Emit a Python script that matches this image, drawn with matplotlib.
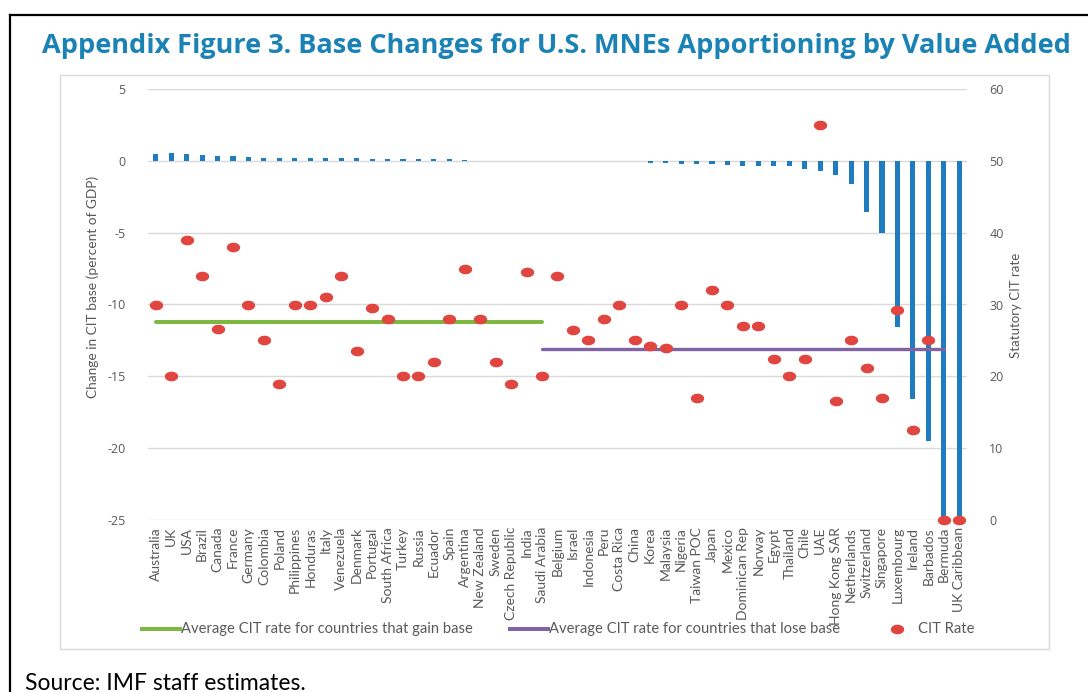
import numpy as np
import matplotlib
matplotlib.use("Agg")
import matplotlib.pyplot as plt
from matplotlib.lines import Line2D
from matplotlib.path import Path

countries = ["Australia", "UK", "USA", "Brazil", "Canada", "France", "Germany",
             "Colombia", "Poland", "Philippines", "Honduras", "Italy", "Venezuela",
             "Denmark", "Portugal", "South Africa", "Turkey", "Russia", "Ecuador",
             "Spain", "Argentina", "New Zealand", "Sweden", "Czech Republic", "India",
             "Saudi Arabia", "Belgium", "Israel", "Indonesia", "Peru", "Costa Rica",
             "China", "Korea", "Malaysia", "Nigeria", "Taiwan POC", "Japan", "Mexico",
             "Dominican Rep", "Norway", "Egypt", "Thailand", "Chile", "UAE",
             "Hong Kong SAR", "Netherlands", "Switzerland", "Singapore", "Luxembourg",
             "Ireland", "Barbados", "Bermuda", "UK Caribbean"]

# change in CIT base, percent of GDP (left axis)
base_change = [0.5, 0.52, 0.45, 0.38, 0.33, 0.33, 0.28, 0.23, 0.19, 0.19, 0.19,
               0.19, 0.19, 0.19, 0.15, 0.15, 0.15, 0.1, 0.1, 0.1, 0.05, 0.0,
               0.0, 0.0, 0.0, 0.0, 0.0, 0.0, 0.0, 0.0, 0.0, -0.02, -0.12, -0.16,
               -0.19, -0.21, -0.25, -0.3, -0.35, -0.39, -0.39, -0.39, -0.58, -0.74,
               -0.97, -1.62, -3.56, -5.05, -11.6, -16.6, -19.5, -25.5, -25.5]

# statutory CIT rate (right axis)
cit_rate = [30, 20, 39, 34, 26.6, 38, 30, 25, 19, 30, 30, 31, 34, 23.5, 29.5, 28,
            20, 20, 22, 28, 35, 28, 22, 19, 34.5, 20, 34, 26.4, 25, 28, 30, 25,
            24.2, 24, 30, 17, 32, 30, 27, 27, 22.4, 20, 22.4, 55, 16.5, 25, 21.1,
            17, 29.2, 12.5, 25, 0, 0]

avg_gain = 27.5   # Saudi Arabia is the last of the gaining group on the chart
avg_lose = 23.8
gain_span = (0, 25)
lose_span = (25, 51)

blue = "#1F7CC1"
red = "#E0463F"
green = "#7DB843"
purple = "#8064A2"
grey_txt = "#595959"
grid_c = "#D9D9D9"

narrow = ["Lato", "DejaVu Sans"]
plt.rcParams["font.family"] = ["Open Sans", "DejaVu Sans"]
plt.rcParams["axes.unicode_minus"] = False

fig = plt.figure(figsize=(10.88, 6.92), dpi=100)
W, H = 1088, 692


def fx(px):
    return px / W


def fy(py):
    return 1 - py / H


# outer frame and chart box
fig.add_artist(Line2D([fx(10), 1], [fy(15), fy(15)], color="black", lw=1.6))
fig.add_artist(Line2D([fx(10), fx(10)], [0, fy(15)], color="black", lw=1.6))
fig.add_artist(plt.Rectangle((fx(60), fy(649)), 989 / W, 574 / H, fill=False,
                             edgecolor=grid_c, lw=1.0))

fig.text(fx(42), fy(46),
         "Appendix Figure 3. Base Changes for U.S. MNEs Apportioning by Value Added",
         color="#1A82B4", fontsize=19.5, fontweight="bold", va="center", ha="left")
fig.text(fx(25), fy(683), "Source: IMF staff estimates.", fontsize=16.5,
         family=narrow, va="center", ha="left")

ax = fig.add_axes([fx(148), fy(520), 819 / W, 431 / H])
x = np.arange(len(countries))
ax.bar(x, base_change, width=0.33, color=blue, zorder=2)
ax.set_ylim(-25, 5)
ax.set_xlim(-0.5, len(countries) - 0.5)
ax.set_yticks(range(-25, 6, 5))
ax.yaxis.grid(True, color=grid_c, lw=1.0, zorder=0)
ax.set_axisbelow(True)
ax.set_xticks(x)
ax.set_xticklabels(countries, rotation=90, family=narrow, fontsize=10, color=grey_txt)
ax.tick_params(axis="both", length=0)
ax.tick_params(axis="y", pad=16, labelsize=9, labelcolor=grey_txt)
ax.tick_params(axis="x", pad=5)
for s in ax.spines.values():
    s.set_visible(False)
fig.text(fx(93), fy(287), "Change in CIT base (percent of GDP)", rotation=90,
         family=narrow, fontsize=9.9, color=grey_txt, va="center", ha="center")

ax2 = ax.twinx()
ax2.set_ylim(0, 60)
ax2.set_yticks(range(0, 61, 10))
ax2.tick_params(axis="y", length=0, pad=16, labelsize=9, labelcolor=grey_txt)
for s in ax2.spines.values():
    s.set_visible(False)
fig.text(fx(1016), fy(305), "Statutory CIT rate", rotation=90,
         family=narrow, fontsize=9.5, color=grey_txt, va="center", ha="center")

ax2.plot(gain_span, [avg_gain, avg_gain], color=green, lw=2.9, solid_capstyle="round",
         zorder=3)
ax2.plot(lose_span, [avg_lose, avg_lose], color=purple, lw=2.4, solid_capstyle="round",
         zorder=3)

t = np.linspace(0, 2 * np.pi, 40)
ellipse = Path(np.column_stack([1.45 * np.cos(t), np.sin(t)]))
ax2.plot(x, cit_rate, linestyle="none", marker=ellipse, markersize=8.6,
         color=red, zorder=4, clip_on=False)

# legend, laid out by hand like the Excel one
ly = fy(629)
fig.add_artist(Line2D([fx(142), fx(180)], [ly, ly], color=green, lw=2.9))
fig.text(fx(181), ly, "Average CIT rate for countries that gain base", family=narrow,
         fontsize=10.6, color=grey_txt, va="center", ha="left")
fig.add_artist(Line2D([fx(510), fx(548)], [ly, ly], color=purple, lw=2.9))
fig.text(fx(549), ly, "Average CIT rate for countries that lose base", family=narrow,
         fontsize=10.6, color=grey_txt, va="center", ha="left")
fig.add_artist(Line2D([fx(897)], [ly], linestyle="none", marker=ellipse,
                      markersize=8.6, color=red))
fig.text(fx(918), ly, "CIT Rate", family=narrow, fontsize=10.6, color=grey_txt,
         va="center", ha="left")

fig.savefig("out.png", dpi=100)
